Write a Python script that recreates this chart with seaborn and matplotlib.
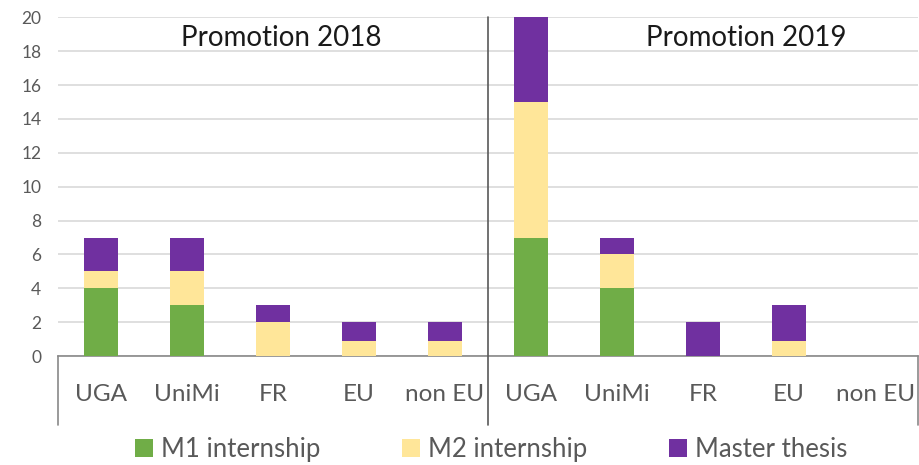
import matplotlib
matplotlib.use("Agg")
import matplotlib.pyplot as plt
import seaborn as sns
import pandas as pd
from matplotlib.patches import Patch

# Data
places = ["UGA", "UniMi", "FR", "EU", "non EU"]
promotions = ["2018", "2019"]
m1_internship = [4, 3, 0, 0, 0, 7, 4, 0, 0, 0]
m2_internship = [1, 2, 2, 0.9, 0.9, 8, 2, 0, 0.9, 0]
master_thesis = [2, 2, 1, 1.1, 1.1, 5, 1, 2, 2.1, 0]
series_names = ["M1 internship", "M2 internship", "Master thesis"]
colors = ["#70AD47", "#FFE699", "#7030A0"]

keys = [f"{p} {c}" for p in promotions for c in places]
labels = [c for p in promotions for c in places]

df = pd.DataFrame({"key": keys, "m1": m1_internship, "m2": m2_internship, "mt": master_thesis})
df["lvl1"] = df["m1"]
df["lvl2"] = df["m1"] + df["m2"]
df["lvl3"] = df["m1"] + df["m2"] + df["mt"]

sns.set_theme(style="white")
plt.rcParams["font.family"] = ["Lato", "DejaVu Sans"]

fig = plt.figure(figsize=(9.2, 4.65), dpi=100)
ax = fig.add_axes([0.063, 0.234, 0.935, 0.729])

# Stacked bars: draw cumulative totals back to front
for col, color in zip(["lvl3", "lvl2", "lvl1"], colors[::-1]):
    sns.barplot(data=df, x="key", y=col, order=keys, color=color,
                width=0.4, saturation=1, ax=ax, zorder=3, errorbar=None,
                linewidth=0, edgecolor="none")

ax.set_ylim(0, 20)
ax.set_xlim(-0.5, 9.5)
ax.set_yticks(range(0, 21, 2))
ax.yaxis.grid(True, color="#D9D9D9", linewidth=1.2, zorder=0)
ax.set_axisbelow(True)
ax.set_xlabel("")
ax.set_ylabel("")
ax.set_xticks(range(len(keys)))
ax.set_xticklabels(labels)
ax.tick_params(axis="x", length=0, pad=20, labelsize=17.5, labelcolor="#595959")
ax.tick_params(axis="y", length=0, pad=12, labelsize=12.5, labelcolor="#595959")

for side in ["left", "right", "top"]:
    ax.spines[side].set_visible(False)
ax.spines["bottom"].set_color("#898989")
ax.spines["bottom"].set_linewidth(1.2)

# Category separators: outer edges below the axis, divider through the plot
tr = ax.get_xaxis_transform()
ax.plot([-0.5, -0.5], [0, -0.204], transform=tr, clip_on=False, color="#898989", lw=1.2)
ax.plot([9.5, 9.5], [0, -0.204], transform=tr, clip_on=False, color="#898989", lw=1.2)
ax.plot([4.5, 4.5], [1, -0.204], transform=tr, clip_on=False, color="#595959", lw=1.2, zorder=5)

# Group titles
ax.text(2.1, 18.8, "Promotion 2018", ha="center", va="center", fontsize=20, color="#1a1a1a")
ax.text(7.5, 18.8, "Promotion 2019", ha="center", va="center", fontsize=20, color="#1a1a1a")

handles = [Patch(facecolor=c, edgecolor="none") for c in colors]
fig.legend(handles, series_names, loc="center", bbox_to_anchor=(0.534, 0.033), ncol=3,
           frameon=False, fontsize=18.5, handlelength=0.7, handleheight=0.7,
           handletextpad=0.3, columnspacing=3.2, labelcolor="#595959")

fig.savefig("out.png", dpi=100)
